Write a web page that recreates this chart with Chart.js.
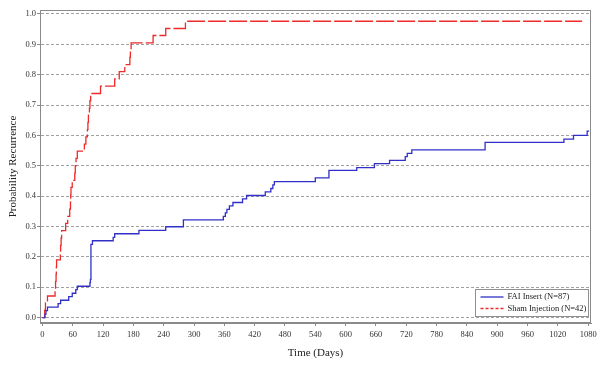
<!DOCTYPE html>
<html>
<head>
<meta charset="utf-8">
<script src="https://cdn.jsdelivr.net/npm/chart.js@4"></script>
<style>
  body { margin: 0; background: #fff; }
  #wrap { width: 601px; height: 372px; position: relative; }
</style>
</head>
<body>
<div id="wrap"><canvas id="km"></canvas></div>
<script>
// Kaplan-Meier style step data (days, probability)
var faiDays  = [0, 5, 7, 10, 31, 36, 52, 59, 66, 69, 94, 95, 96, 99, 140, 143, 191, 244, 279, 358, 362, 365, 370, 377, 396, 404, 441, 452, 456, 459, 540, 567, 622, 657, 687, 718, 722, 731, 876, 1032, 1051, 1078, 1082];
var faiProb  = [0, 0.0115, 0.023, 0.0345, 0.046, 0.057, 0.069, 0.080, 0.092, 0.103, 0.115, 0.126, 0.241, 0.253, 0.264, 0.276, 0.287, 0.299, 0.322, 0.333, 0.345, 0.356, 0.368, 0.379, 0.391, 0.402, 0.414, 0.425, 0.437, 0.448, 0.460, 0.485, 0.494, 0.507, 0.518, 0.530, 0.541, 0.552, 0.577, 0.588, 0.600, 0.614, 0.614];

var shamDays = [0, 4.5, 6, 10, 25, 26, 27, 27.5, 28, 35.5, 36, 37, 38, 46, 50, 54, 55.5, 56, 56.5, 59, 64, 65, 66.5, 69, 83, 86, 89, 90, 91, 93, 94, 95.5, 115, 143, 152, 163, 173, 174, 175.5, 219, 244, 283, 1068];
var shamProb = [0, 0.024, 0.048, 0.071, 0.095, 0.119, 0.143, 0.167, 0.190, 0.214, 0.238, 0.262, 0.286, 0.310, 0.333, 0.357, 0.381, 0.405, 0.429, 0.452, 0.476, 0.500, 0.524, 0.548, 0.571, 0.595, 0.619, 0.643, 0.667, 0.690, 0.714, 0.738, 0.762, 0.786, 0.810, 0.833, 0.857, 0.881, 0.905, 0.929, 0.952, 0.976, 0.976];

var xTicks = [0, 60, 120, 180, 240, 300, 360, 420, 480, 540, 600, 660, 720, 780, 840, 900, 960, 1020, 1080];
var yTicks = [0.0, 0.1, 0.2, 0.3, 0.4, 0.5, 0.6, 0.7, 0.8, 0.9, 1.0];

var seriesNames = ["FAI Insert (N=87)", "Sham Injection (N=42)"];

function pts(xs, ys) {
  var out = [];
  for (var i = 0; i < xs.length; i++) out.push({x: xs[i], y: ys[i]});
  return out;
}

var serif = "'Liberation Serif', 'DejaVu Serif', serif";

// plot frame + boxed legend in the lower right corner
var frameLegend = {
  id: 'frameLegend',
  afterDraw: function(chart) {
    var c = chart.ctx, a = chart.chartArea;
    c.save();
    c.strokeStyle = '#8a8a8a';
    c.lineWidth = 1;
    c.setLineDash([]);
    var l = Math.round(a.left) + 0.5, t = Math.round(a.top) + 0.5;
    var r = Math.round(a.right) - 0.5, b = Math.round(a.bottom) - 0.5;
    c.strokeRect(l, t, r - l, b - t);

    var bx = Math.round(a.right) - 115.5, by = Math.round(a.bottom) - 33.5;
    c.fillStyle = '#fff';
    c.fillRect(bx, by, 113, 27);
    c.strokeStyle = '#909090';
    c.strokeRect(bx, by, 113, 27);

    c.font = "8.5px " + serif;
    c.textBaseline = 'middle';
    c.textAlign = 'left';
    chart.data.datasets.forEach(function(ds, i) {
      var yy = by + 7.5 + i * 11.5;
      c.strokeStyle = ds.borderColor;
      c.lineWidth = 1.3;
      c.setLineDash(i === 1 ? [3, 2] : []);
      c.beginPath();
      c.moveTo(bx + 5, yy);
      c.lineTo(bx + 28, yy);
      c.stroke();
      c.fillStyle = '#222';
      c.fillText(ds.label, bx + 32, yy);
    });
    c.restore();
  }
};

new Chart(document.getElementById("km"), {
  type: 'line',
  data: {
    datasets: [{
      label: seriesNames[0],
      data: pts(faiDays, faiProb),
      borderColor: "#3030c8",
      borderWidth: 1.3,
      stepped: true,
      pointRadius: 0,
      fill: false
    }, {
      label: seriesNames[1],
      data: pts(shamDays, shamProb),
      borderColor: "#ee2a2a",
      borderWidth: 1.3,
      borderDash: [18, 3],
      stepped: true,
      pointRadius: 0,
      fill: false
    }]
  },
  options: {
    responsive: true,
    maintainAspectRatio: false,
    animation: false,
    layout: { padding: { left: 0, top: 10, right: 10, bottom: 0 } },
    plugins: {
      legend: { display: false },
      tooltip: { enabled: false }
    },
    scales: {
      x: {
        type: 'linear',
        min: -4.8,
        max: 1085.6,
        afterBuildTicks: function(s) { s.ticks = xTicks.map(function(v) { return {value: v}; }); },
        afterFit: function(s) { s.height = 49; },
        grid: { drawOnChartArea: false, drawTicks: true, tickLength: 3, color: '#8a8a8a' },
        border: { color: '#8a8a8a' },
        ticks: {
          color: '#333', padding: 4, maxRotation: 0, autoSkip: false, font: { family: serif, size: 8.5 },
          callback: function(v) { return String(v); }
        },
        title: { display: true, text: 'Time (Days)', color: '#222', font: { family: serif, size: 11 }, padding: { top: 0, bottom: 12 } }
      },
      y: {
        type: 'linear',
        min: -0.018,
        max: 1.013,
        afterBuildTicks: function(s) { s.ticks = yTicks.map(function(v) { return {value: v}; }); },
        afterFit: function(s) { s.width = 40; },
        grid: { color: '#a0a0a0', drawTicks: true, tickLength: 3, tickColor: '#8a8a8a' },
        border: { color: '#8a8a8a', dash: [3, 2] },
        ticks: {
          color: '#333', padding: 1, autoSkip: false, font: { family: serif, size: 8.5 },
          callback: function(v) { return Number(v).toFixed(1); }
        },
        title: { display: true, text: 'Probability Recurrence', color: '#222', font: { family: serif, size: 11 }, padding: { top: 7, bottom: 0 } }
      }
    }
  },
  plugins: [frameLegend]
});
</script>
</body>
</html>
